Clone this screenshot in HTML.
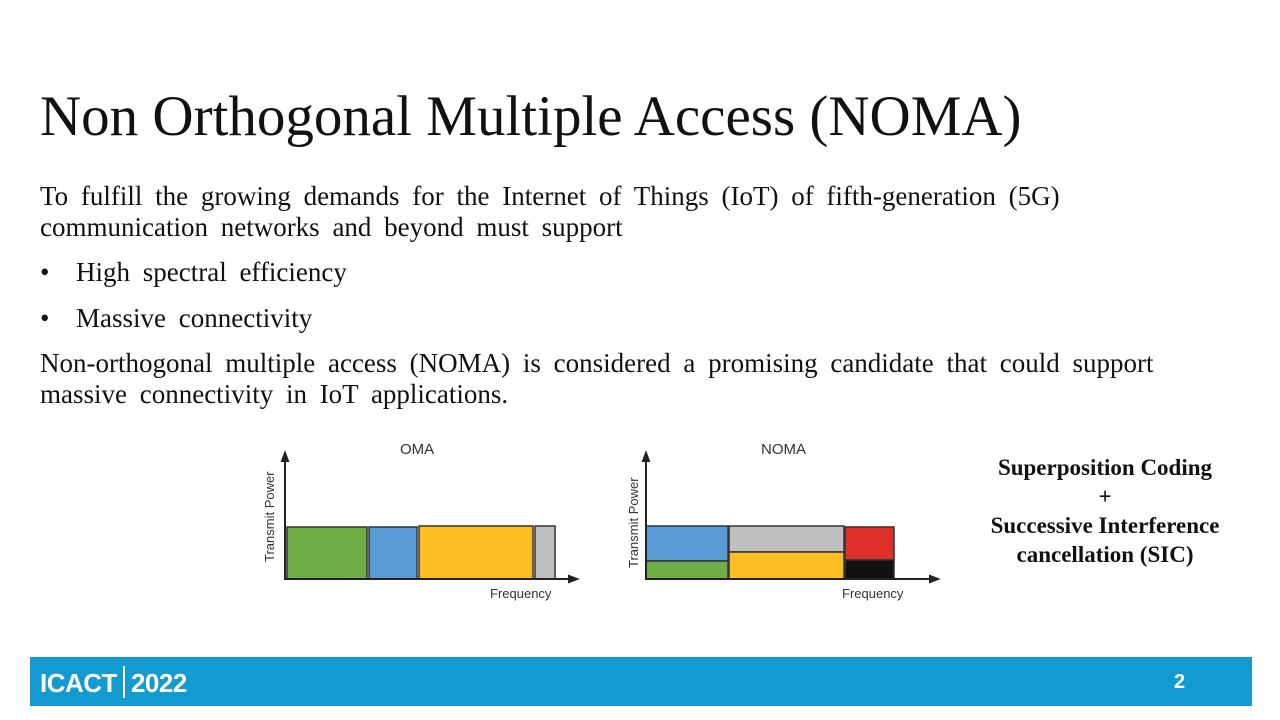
<!DOCTYPE html>
<html><head><meta charset="utf-8"><style>
body{margin:0;width:1280px;height:720px;background:#fff;position:relative;overflow:hidden;font-family:"Liberation Serif",serif;}
.t{position:absolute;white-space:nowrap;color:#111;}
h1{position:absolute;left:40px;top:84px;margin:0;font-weight:normal;font-size:57px;font-family:"Liberation Serif",serif;color:#111;}
.p{font-size:27px;word-spacing:6px;}
.bar{position:absolute;left:30px;top:657px;width:1222px;height:49px;background:#139bd1;}
.s{font-family:"Liberation Sans",sans-serif;font-size:14px;color:#333;}
</style></head><body>
<h1>Non Orthogonal Multiple Access (NOMA)</h1>
<div class="t p" style="left:40px;top:181px;">To fulfill the growing demands for the Internet of Things (IoT) of fifth-generation (5G)</div>
<div class="t p" style="left:40px;top:212px;">communication networks and beyond must support</div>
<div class="t p" style="left:40px;top:257px;">•</div><div class="t p" style="left:76px;top:257px;">High spectral efficiency</div>
<div class="t p" style="left:40px;top:303px;">•</div><div class="t p" style="left:76px;top:303px;">Massive connectivity</div>
<div class="t p" style="left:40px;top:348px;">Non-orthogonal multiple access (NOMA) is considered a promising candidate that could support</div>
<div class="t p" style="left:40px;top:379px;">massive connectivity in IoT applications.</div>
<div class="t" style="left:965px;top:453px;width:280px;text-align:center;font-weight:bold;font-size:23px;line-height:29px;">Superposition Coding<br>+<br>Successive Interference<br>cancellation (SIC)</div>
<svg style="position:absolute;left:0;top:0" width="1280" height="720">
<g stroke="#333" stroke-width="1.5">
<rect x="287" y="527" width="80" height="52" fill="#70ad47"/>
<rect x="369" y="527" width="48" height="52" fill="#5b9bd5"/>
<rect x="419" y="526" width="114" height="53" fill="#fbbf24"/>
<rect x="535" y="526" width="20" height="53" fill="#c0c0c0"/>
<rect x="646" y="526" width="82" height="35" fill="#5b9bd5"/>
<rect x="646" y="561" width="82" height="18" fill="#70ad47"/>
<rect x="729" y="526" width="115" height="26" fill="#c0c0c0"/>
<rect x="729" y="552" width="115" height="27" fill="#fbbf24"/>
<rect x="845" y="527" width="49" height="33" fill="#e0302a"/>
<rect x="845" y="560" width="49" height="19" fill="#111"/>
</g>
<g stroke="#222" stroke-width="2" fill="#222">
<line x1="285" y1="460" x2="285" y2="580"/><line x1="285" y1="579" x2="572" y2="579"/>
<polygon points="285,453 282,461 288,461"/><polygon points="577,579 569,576 569,582"/>
<line x1="646" y1="460" x2="646" y2="580"/><line x1="646" y1="579" x2="933" y2="579"/>
<polygon points="646,453 643,461 649,461"/><polygon points="938,579 930,576 930,582"/>
</g>
</svg>
<div class="t s" style="left:400px;top:441px;font-size:15px;">OMA</div>
<div class="t s" style="left:761px;top:441px;font-size:15px;">NOMA</div>
<div class="t s" style="left:490px;top:586px;font-size:13px;">Frequency</div>
<div class="t s" style="left:842px;top:586px;font-size:13px;">Frequency</div>
<div class="t s" style="left:262px;top:562px;font-size:13px;transform:rotate(-90deg);transform-origin:0 0;">Transmit Power</div>
<div class="t s" style="left:626px;top:568px;font-size:13px;transform:rotate(-90deg);transform-origin:0 0;">Transmit Power</div>
<div class="bar"></div>
<div class="t" style="left:40px;top:666px;color:#fff;font-family:'Liberation Sans',sans-serif;font-weight:bold;font-size:26px;letter-spacing:-0.5px;">ICACT<span style="display:inline-block;width:2px;height:32px;background:#fff;margin:0 6px;vertical-align:-6px;"></span>2022</div>
<div class="t" style="left:1174px;top:671px;color:#fff;font-family:'Liberation Sans',sans-serif;font-weight:bold;font-size:20px;">2</div>
</body></html>
